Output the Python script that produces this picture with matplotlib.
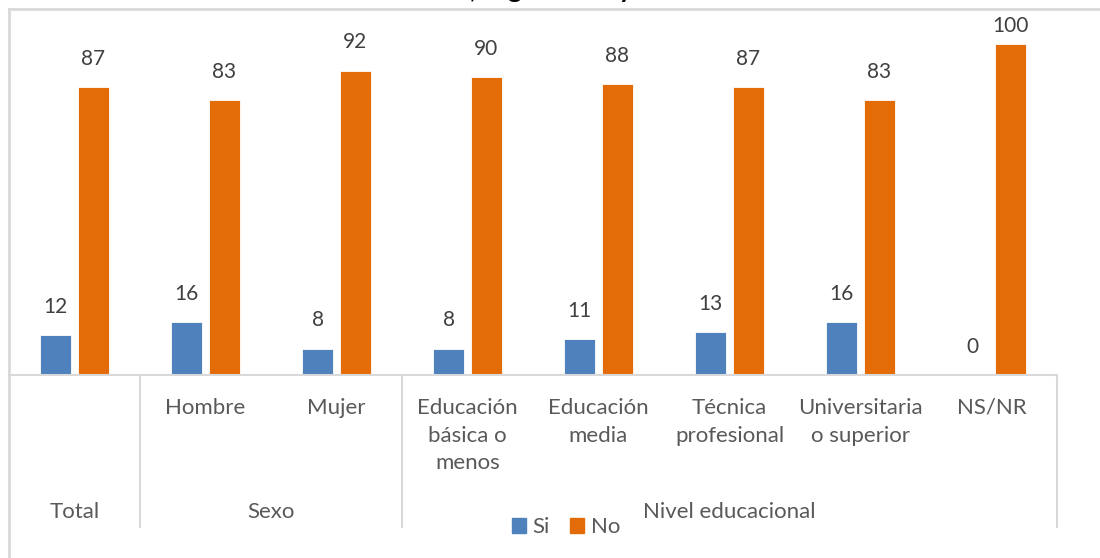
import matplotlib.pyplot as plt
import numpy as np
from matplotlib.patches import Patch
from matplotlib.lines import Line2D
from matplotlib.transforms import blended_transform_factory

plt.rcParams['font.family'] = ['Lato', 'DejaVu Sans']

# datos
categorias = ["", "Hombre", "Mujer", "Educación\nbásica o\nmenos", "Educación\nmedia",
              "Técnica\nprofesional", "Universitaria\no superior", "NS/NR"]
grupos = ["Total", "Sexo", "Nivel educacional"]
grupo_inicio = [0, 1, 3]
grupo_fin = [0, 2, 7]
si = [12, 16, 8, 8, 11, 13, 16, 0]
no = [87, 83, 92, 90, 88, 87, 83, 100]

azul = "#4F81BD"
naranja = "#E36C09"
gris = "#d9d9d9"
texto = "#595959"

W, H = 1100, 558
fig = plt.figure(figsize=(W / 100, H / 100), dpi=100)

# eje: x de 9 a 1057 px, base en y=375 px
ax = fig.add_axes([9 / W, 1 - 375 / H, 1048 / W, 347.5 / H])
x = np.arange(len(categorias))
b1 = ax.bar(x - 0.145, si, width=0.23, color=azul, edgecolor="white", linewidth=0.6)
b2 = ax.bar(x + 0.145, no, width=0.23, color=naranja, edgecolor="white", linewidth=0.6)
ax.bar_label(b1, padding=13, fontsize=15, color="#404040")
etq_no = ax.bar_label(b2, padding=13, fontsize=15, color="#404040")
# la etiqueta de 100 queda mas pegada a la barra (como en Excel)
for v, t in zip(no, etq_no):
    if v >= 100:
        t.xyann = (0, 6)
ax.set_xlim(-0.5, len(categorias) - 0.5)
ax.set_ylim(0, 105)
for s in ["top", "left", "right"]:
    ax.spines[s].set_visible(False)
ax.spines["bottom"].set_color(gris)
ax.spines["bottom"].set_linewidth(1.5)
ax.set_xticks([])
ax.set_yticks([])

tr = blended_transform_factory(ax.transData, fig.transFigure)
for i, c in enumerate(categorias):
    ax.text(i, 1 - 398 / H, c, transform=tr, ha="center", va="top",
            fontsize=16, color=texto, linespacing=1.48)
for g, a, b in zip(grupos, grupo_inicio, grupo_fin):
    ax.text((a + b) / 2, 1 - 512 / H, g, transform=tr, ha="center", va="center",
            fontsize=16, color=texto)

# separadores de grupos
for xb in [0.5, 2.5, len(categorias) - 0.5]:
    ax.add_line(Line2D([xb, xb], [1 - 375 / H, 1 - 527 / H], transform=tr,
                       color=gris, lw=1.5, clip_on=False))

# borde del area del grafico
fig.add_artist(Line2D([9 / W, 1], [1 - 8.5 / H, 1 - 8.5 / H], color=gris, lw=2))
fig.add_artist(Line2D([9 / W, 9 / W], [0, 1 - 8.5 / H], color=gris, lw=2))

# titulo cortado en la parte superior
fig.text(470 / W, 1 + 1.5 / H, ", según sexo y nivel educacional", ha="left",
         va="baseline", fontsize=19, fontweight="bold", color="black")

fig.legend(handles=[Patch(color=azul, label="Si"), Patch(color=naranja, label="No")],
           loc="center", bbox_to_anchor=(566 / W, 1 - 527 / H), ncol=2, frameon=False,
           fontsize=16, handlelength=0.65, handleheight=0.65, handletextpad=0.3,
           columnspacing=0.9, labelcolor=texto)

fig.savefig("out.png", dpi=100)
